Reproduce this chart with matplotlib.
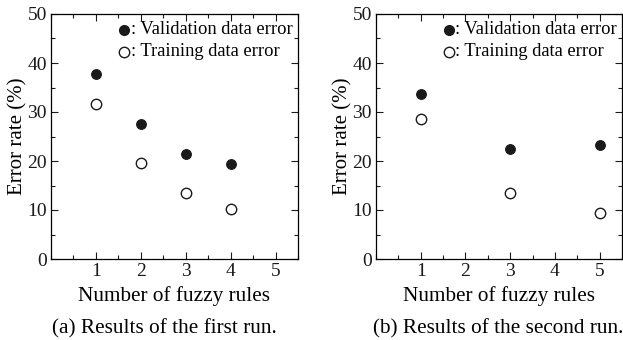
import matplotlib
matplotlib.use("Agg")
import matplotlib.pyplot as plt
from matplotlib.ticker import MultipleLocator

plt.rcParams['font.family'] = ['Liberation Serif', 'DejaVu Serif']

# run 1
rules_a = [1, 2, 3, 4]
valid_a = [37.7, 27.6, 21.4, 19.3]
train_a = [31.7, 19.6, 13.4, 10.3]

# run 2
rules_b = [1, 3, 5]
valid_b = [33.6, 22.4, 23.3]
train_b = [28.6, 13.4, 9.3]

captions = ["(a) Results of the first run.", "(b) Results of the second run."]

W, H = 623, 340
fig = plt.figure(figsize=(W / 100, H / 100), dpi=100)


def px_axes(x0, y0, x1, y1):
    return fig.add_axes([x0 / W, 1 - y1 / H, (x1 - x0) / W, (y1 - y0) / H])


panels = [
    (px_axes(51, 14, 298, 259), rules_a, valid_a, train_a, captions[0], 164),
    (px_axes(376, 14, 622, 259), rules_b, valid_b, train_b, captions[1], 498),
]

for ax, x, v, t, cap, cx in panels:
    ax.plot(x, v, 'o', color='#1a1a1a', markersize=7, markeredgewidth=0.8, zorder=3)
    ax.plot(x, t, 'o', markerfacecolor='white', markeredgecolor='#1a1a1a',
            markersize=7.5, markeredgewidth=1.0, zorder=3)
    ax.set_xlim(0, 5.5)
    ax.set_ylim(0, 50)
    ax.xaxis.set_major_locator(MultipleLocator(1))
    ax.xaxis.set_minor_locator(MultipleLocator(0.5))
    ax.yaxis.set_major_locator(MultipleLocator(10))
    ax.yaxis.set_minor_locator(MultipleLocator(5))
    ax.set_xticks([1, 2, 3, 4, 5])
    ax.tick_params(which='both', direction='in', top=True, right=True,
                   labelsize=14, width=0.8, colors='#1a1a1a', pad=3)
    ax.tick_params(which='major', length=5)
    ax.tick_params(which='minor', length=3)
    for s in ax.spines.values():
        s.set_linewidth(0.9)
    ax.set_xlabel("Number of fuzzy rules", fontsize=15.3, labelpad=4)
    ax.set_ylabel("Error rate (%)", fontsize=15, labelpad=0)

    # marker key in the upper right
    kx = 0.295
    ax.plot([kx], [0.935], 'o', transform=ax.transAxes, color='#1a1a1a',
            markersize=7, clip_on=False)
    ax.plot([kx], [0.845], 'o', transform=ax.transAxes, markerfacecolor='white',
            markeredgecolor='#1a1a1a', markersize=7.5, markeredgewidth=1.0,
            clip_on=False)
    ax.text(kx + 0.028, 0.935, ": Validation data error", transform=ax.transAxes,
            fontsize=13.3, va='center', ha='left')
    ax.text(kx + 0.028, 0.845, ": Training data error", transform=ax.transAxes,
            fontsize=13.3, va='center', ha='left')

    fig.text(cx / W, 1 - 329 / H, cap, fontsize=15.3, ha='center', va='center')

fig.savefig("out.png", dpi=100)
